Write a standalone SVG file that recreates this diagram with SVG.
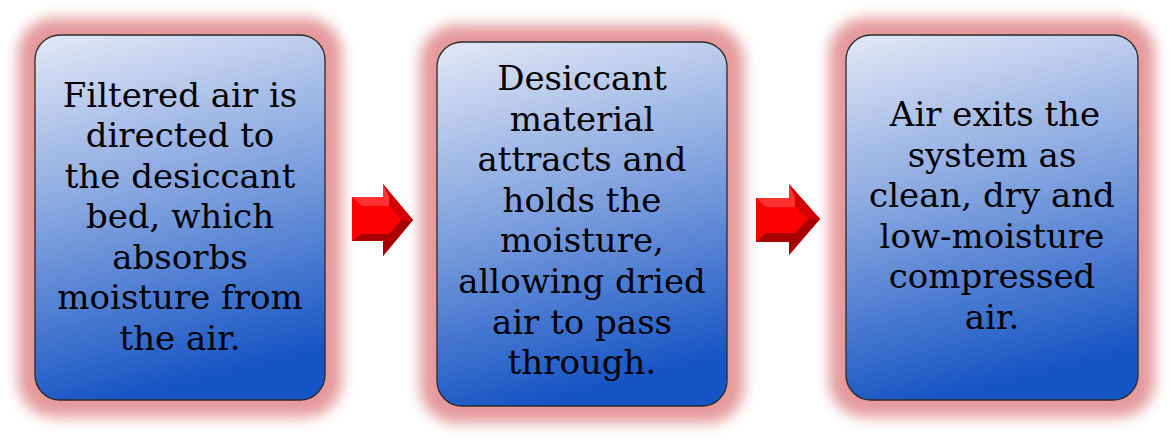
<svg xmlns="http://www.w3.org/2000/svg" width="1171" height="440" viewBox="0 0 1171 440">
<defs>
<linearGradient id="boxGrad" x1="0.1" y1="0" x2="0.3" y2="1">
<stop offset="0" stop-color="#dfe6f5"/>
<stop offset="0.5" stop-color="#7fa0de"/>
<stop offset="1" stop-color="#1655c4"/>
</linearGradient>
<filter id="glow" x="-30%" y="-30%" width="160%" height="160%">
<feGaussianBlur stdDeviation="7"/>
</filter>
</defs>
<style>
.glow{fill:#e59a9b;filter:url(#glow)}
.box{fill:url(#boxGrad);stroke:#2a2a2a;stroke-width:1.3}
.t{font-family:"DejaVu Serif","Liberation Serif",serif;font-size:34px;fill:#000;text-anchor:middle}
.arr{fill:#ff0000}
.dk{fill:#a80000}
.md{fill:#d40000}
.lt{fill:#ff3030}
</style>
<g id="node1">
<rect class="glow" x="18" y="18" width="324" height="399" rx="36"/>
<rect class="box" x="35" y="35" width="290" height="365" rx="25"/>
<text class="t"><tspan x="180" y="107">Filtered air is</tspan><tspan x="180" y="147">directed to</tspan><tspan x="180" y="188">the desiccant</tspan><tspan x="180" y="228">bed, which</tspan><tspan x="180" y="269">absorbs</tspan><tspan x="180" y="309">moisture from</tspan><tspan x="180" y="350">the air.</tspan></text>
</g>
<g id="node2">
<rect class="glow" x="420" y="25" width="324" height="398" rx="36"/>
<rect class="box" x="437" y="42" width="290" height="364" rx="25"/>
<text class="t"><tspan x="582" y="90">Desiccant</tspan><tspan x="582" y="131">material</tspan><tspan x="582" y="171">attracts and</tspan><tspan x="582" y="212">holds the</tspan><tspan x="582" y="252">moisture,</tspan><tspan x="582" y="293">allowing dried</tspan><tspan x="582" y="334">air to pass</tspan><tspan x="582" y="374">through.</tspan></text>
</g>
<g id="node3">
<rect class="glow" x="829" y="18" width="326" height="399" rx="36"/>
<rect class="box" x="846" y="35" width="292" height="365" rx="25"/>
<text class="t"><tspan x="995" y="126">Air exits the</tspan><tspan x="992" y="167">system as</tspan><tspan x="992" y="207">clean, dry and</tspan><tspan x="992" y="248">low-moisture</tspan><tspan x="992" y="288">compressed</tspan><tspan x="992" y="329">air.</tspan></text>
</g>
<g id="connectors">
<g id="arrow1">
<polygon class="arr" points="352,197 383,197 383,184 413,220 383,256 383,241 352,241"/>
<polygon class="lt" points="352,197 383,197 383,184 389,196 389,206 362,206"/>
<polygon class="dk" points="352,241 383,241 383,256 389,244 389,234 362,234"/>
<polygon class="md" points="389,206 401,220 413,220 383,184 389,196"/>
<polygon class="dk" points="389,234 401,220 413,220 383,256 389,244"/>
<polygon class="arr" points="362,206 389,206 401,220 389,234 362,234"/>
</g>
<g id="arrow2">
<polygon class="arr" points="756,198 789,198 789,184 820,219 789,255 789,242 756,242"/>
<polygon class="lt" points="756,198 789,198 789,184 795,197 795,207 766,207"/>
<polygon class="dk" points="756,242 789,242 789,255 795,243 795,233 766,233"/>
<polygon class="md" points="795,207 808,219 820,219 789,184 795,197"/>
<polygon class="dk" points="795,233 808,219 820,219 789,255 795,243"/>
<polygon class="arr" points="766,207 795,207 808,219 795,233 766,233"/>
</g>
</g>
</svg>
